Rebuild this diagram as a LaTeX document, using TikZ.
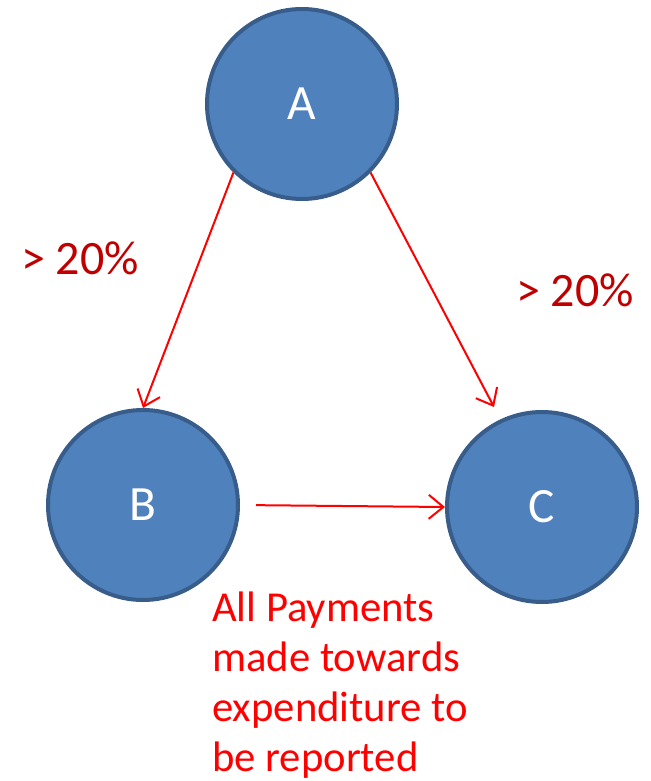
\documentclass[tikz,border=0pt]{standalone}
\usepackage{fontspec}
\setmainfont{Carlito}
\usepackage{xcolor}
\usepackage{tikz}
\usetikzlibrary{arrows.meta,positioning}
\definecolor{fillblue}{HTML}{4F81BD}
\definecolor{edgeblue}{HTML}{385D8A}
\definecolor{linkred}{HTML}{FF0000}
\definecolor{pctred}{HTML}{C00000}
\tikzset{
  party/.style={circle, draw=edgeblue, fill=fillblue, line width=3pt, minimum size=142.5pt, inner sep=0pt, text=white, font=\fontsize{37}{42}\selectfont},
  flow/.style={draw=linkred, line width=1.5pt, -{Straight Barb[length=11pt,width=18pt,line width=1.5pt]}},
  pct/.style={text=pctred, font=\fontsize{36}{40}\selectfont},
  note/.style={text=linkred, font=\fontsize{32}{37.5}\selectfont, align=left, anchor=north west, inner sep=0pt},
}
\begin{document}
\begin{tikzpicture}[x=0.75pt, y=-0.75pt]
\useasboundingbox (0,0) rectangle (650,781);

% the three parties
\node[party] (A) at (302,104) {A};
\node[party] (B) at (143,505) {B};
\node[party] (C) at (542,507) {C};

% holdings and payments
\coordinate (cin) at (494,407);
\draw[flow] (A.225) -- (B.north);
\draw[flow] (A.-45) -- (cin);
\draw[flow, shorten <=12pt] (B.east) -- (C.west);

\node[pct] (pab) at (80,258) {> 20\%};
\node[pct] (pac) at (575,290) {> 20\%};
\node[note] (rep) at (212,592) {All Payments\\made towards\\expenditure to\\be reported};
\end{tikzpicture}
\end{document}
